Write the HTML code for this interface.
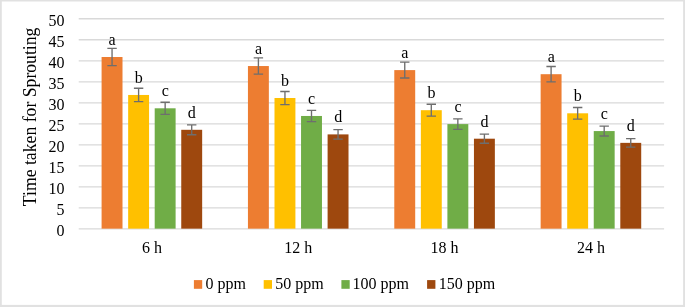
<!DOCTYPE html>
<html><head><meta charset="utf-8"><title>chart</title>
<style>
html,body{margin:0;padding:0;background:#fff;}
body{width:685px;height:307px;overflow:hidden;}
svg{display:block;will-change:transform;}
text{font-family:"Liberation Serif",serif;fill:#000;}
</style></head><body>
<svg width="685" height="307" viewBox="0 0 685 307">
<rect x="0" y="0" width="685" height="307" fill="#e1e1e1"/>
<rect x="1.8" y="1.5" width="681.3000000000001" height="303.4" fill="#fff"/>

<line x1="78.7" x2="664.1" y1="228.90" y2="228.90" stroke="#d9d9d9" stroke-width="1.3"/>
<line x1="78.7" x2="664.1" y1="207.88" y2="207.88" stroke="#d9d9d9" stroke-width="1.3"/>
<line x1="78.7" x2="664.1" y1="186.87" y2="186.87" stroke="#d9d9d9" stroke-width="1.3"/>
<line x1="78.7" x2="664.1" y1="165.86" y2="165.86" stroke="#d9d9d9" stroke-width="1.3"/>
<line x1="78.7" x2="664.1" y1="144.84" y2="144.84" stroke="#d9d9d9" stroke-width="1.3"/>
<line x1="78.7" x2="664.1" y1="123.83" y2="123.83" stroke="#d9d9d9" stroke-width="1.3"/>
<line x1="78.7" x2="664.1" y1="102.81" y2="102.81" stroke="#d9d9d9" stroke-width="1.3"/>
<line x1="78.7" x2="664.1" y1="81.80" y2="81.80" stroke="#d9d9d9" stroke-width="1.3"/>
<line x1="78.7" x2="664.1" y1="60.78" y2="60.78" stroke="#d9d9d9" stroke-width="1.3"/>
<line x1="78.7" x2="664.1" y1="39.76" y2="39.76" stroke="#d9d9d9" stroke-width="1.3"/>
<line x1="78.7" x2="664.1" y1="18.75" y2="18.75" stroke="#d9d9d9" stroke-width="1.3"/>
<rect x="101.59" y="57.00" width="20.91" height="171.65" fill="#ED7D31"/>
<rect x="128.15" y="94.96" width="20.91" height="133.69" fill="#FFC000"/>
<rect x="154.70" y="108.30" width="20.91" height="120.35" fill="#70AD47"/>
<rect x="181.25" y="129.80" width="20.91" height="98.85" fill="#9E480E"/>
<path d="M112.05 48.41V65.59M107.35 48.41H116.75M107.35 65.59H116.75" stroke="#6e6e6e" stroke-width="1.35" fill="none"/>
<path d="M138.60 88.26V101.66M133.90 88.26H143.30M133.90 101.66H143.30" stroke="#6e6e6e" stroke-width="1.35" fill="none"/>
<path d="M165.15 102.27V114.33M160.45 102.27H169.85M160.45 114.33H169.85" stroke="#6e6e6e" stroke-width="1.35" fill="none"/>
<path d="M191.70 124.85V134.76M187.00 124.85H196.40M187.00 134.76H196.40" stroke="#6e6e6e" stroke-width="1.35" fill="none"/>
<rect x="247.94" y="66.04" width="20.91" height="162.61" fill="#ED7D31"/>
<rect x="274.50" y="98.00" width="20.91" height="130.65" fill="#FFC000"/>
<rect x="301.05" y="115.97" width="20.91" height="112.68" fill="#70AD47"/>
<rect x="327.60" y="134.40" width="20.91" height="94.25" fill="#9E480E"/>
<path d="M258.40 57.90V74.18M253.70 57.90H263.10M253.70 74.18H263.10" stroke="#6e6e6e" stroke-width="1.35" fill="none"/>
<path d="M284.95 91.45V104.55M280.25 91.45H289.65M280.25 104.55H289.65" stroke="#6e6e6e" stroke-width="1.35" fill="none"/>
<path d="M311.50 110.32V121.62M306.80 110.32H316.20M306.80 121.62H316.20" stroke="#6e6e6e" stroke-width="1.35" fill="none"/>
<path d="M338.05 129.68V139.12M333.35 129.68H342.75M333.35 139.12H342.75" stroke="#6e6e6e" stroke-width="1.35" fill="none"/>
<rect x="394.29" y="70.10" width="20.91" height="158.55" fill="#ED7D31"/>
<rect x="420.85" y="110.20" width="20.91" height="118.45" fill="#FFC000"/>
<rect x="447.40" y="124.10" width="20.91" height="104.55" fill="#70AD47"/>
<rect x="473.95" y="138.70" width="20.91" height="89.95" fill="#9E480E"/>
<path d="M404.75 62.16V78.04M400.05 62.16H409.45M400.05 78.04H409.45" stroke="#6e6e6e" stroke-width="1.35" fill="none"/>
<path d="M431.30 104.27V116.14M426.60 104.27H436.00M426.60 116.14H436.00" stroke="#6e6e6e" stroke-width="1.35" fill="none"/>
<path d="M457.85 118.86V129.34M453.15 118.86H462.55M453.15 129.34H462.55" stroke="#6e6e6e" stroke-width="1.35" fill="none"/>
<path d="M484.40 134.19V143.21M479.70 134.19H489.10M479.70 143.21H489.10" stroke="#6e6e6e" stroke-width="1.35" fill="none"/>
<rect x="540.64" y="74.20" width="20.91" height="154.45" fill="#ED7D31"/>
<rect x="567.20" y="113.30" width="20.91" height="115.35" fill="#FFC000"/>
<rect x="593.75" y="131.07" width="20.91" height="97.58" fill="#70AD47"/>
<rect x="620.30" y="142.86" width="20.91" height="85.79" fill="#9E480E"/>
<path d="M551.10 66.47V81.94M546.40 66.47H555.80M546.40 81.94H555.80" stroke="#6e6e6e" stroke-width="1.35" fill="none"/>
<path d="M577.65 107.52V119.08M572.95 107.52H582.35M572.95 119.08H582.35" stroke="#6e6e6e" stroke-width="1.35" fill="none"/>
<path d="M604.20 126.18V135.96M599.50 126.18H608.90M599.50 135.96H608.90" stroke="#6e6e6e" stroke-width="1.35" fill="none"/>
<path d="M630.75 138.56V147.16M626.05 138.56H635.45M626.05 147.16H635.45" stroke="#6e6e6e" stroke-width="1.35" fill="none"/>
<rect x="193.9" y="280.1" width="8.3" height="8.7" fill="#ED7D31"/>
<rect x="263.7" y="280.1" width="8.3" height="8.7" fill="#FFC000"/>
<rect x="341.4" y="280.1" width="8.3" height="8.7" fill="#70AD47"/>
<rect x="427.1" y="280.1" width="8.3" height="8.7" fill="#9E480E"/>
<defs><filter id="g" filterUnits="userSpaceOnUse" x="0" y="0" width="685" height="307" color-interpolation-filters="sRGB"><feColorMatrix type="saturate" values="0"/></filter></defs>
<g filter="url(#g)">
<text x="64.6" y="236.35" font-size="16" text-anchor="end">0</text>
<text x="64.6" y="215.33" font-size="16" text-anchor="end">5</text>
<text x="64.6" y="194.32" font-size="16" text-anchor="end">10</text>
<text x="64.6" y="173.31" font-size="16" text-anchor="end">15</text>
<text x="64.6" y="152.29" font-size="16" text-anchor="end">20</text>
<text x="64.6" y="131.28" font-size="16" text-anchor="end">25</text>
<text x="64.6" y="110.26" font-size="16" text-anchor="end">30</text>
<text x="64.6" y="89.25" font-size="16" text-anchor="end">35</text>
<text x="64.6" y="68.23" font-size="16" text-anchor="end">40</text>
<text x="64.6" y="47.21" font-size="16" text-anchor="end">45</text>
<text x="64.6" y="26.20" font-size="16" text-anchor="end">50</text>
<text x="112.15" y="44.90" font-size="16" text-anchor="middle">a</text>
<text x="138.70" y="82.86" font-size="16" text-anchor="middle">b</text>
<text x="165.25" y="96.20" font-size="16" text-anchor="middle">c</text>
<text x="191.80" y="117.70" font-size="16" text-anchor="middle">d</text>
<text x="151.88" y="252.9" font-size="16" text-anchor="middle">6 h</text>
<text x="258.50" y="53.94" font-size="16" text-anchor="middle">a</text>
<text x="285.05" y="85.90" font-size="16" text-anchor="middle">b</text>
<text x="311.60" y="103.87" font-size="16" text-anchor="middle">c</text>
<text x="338.15" y="122.30" font-size="16" text-anchor="middle">d</text>
<text x="298.23" y="252.9" font-size="16" text-anchor="middle">12 h</text>
<text x="404.85" y="58.00" font-size="16" text-anchor="middle">a</text>
<text x="431.40" y="98.10" font-size="16" text-anchor="middle">b</text>
<text x="457.95" y="112.00" font-size="16" text-anchor="middle">c</text>
<text x="484.50" y="126.60" font-size="16" text-anchor="middle">d</text>
<text x="444.57" y="252.9" font-size="16" text-anchor="middle">18 h</text>
<text x="551.20" y="62.10" font-size="16" text-anchor="middle">a</text>
<text x="577.75" y="101.20" font-size="16" text-anchor="middle">b</text>
<text x="604.30" y="118.97" font-size="16" text-anchor="middle">c</text>
<text x="630.85" y="130.76" font-size="16" text-anchor="middle">d</text>
<text x="590.92" y="252.9" font-size="16" text-anchor="middle">24 h</text>
<text transform="translate(35.55,116.85) rotate(-90) scale(1,1.02)" font-size="17.7" text-anchor="middle">Time taken for Sprouting</text>
<text x="205.50" y="288.9" font-size="16">0 ppm</text>
<text x="275.30" y="288.9" font-size="16">50 ppm</text>
<text x="352.60" y="288.9" font-size="16">100 ppm</text>
<text x="438.75" y="288.9" font-size="16">150 ppm</text>
</g>
</svg></body></html>
